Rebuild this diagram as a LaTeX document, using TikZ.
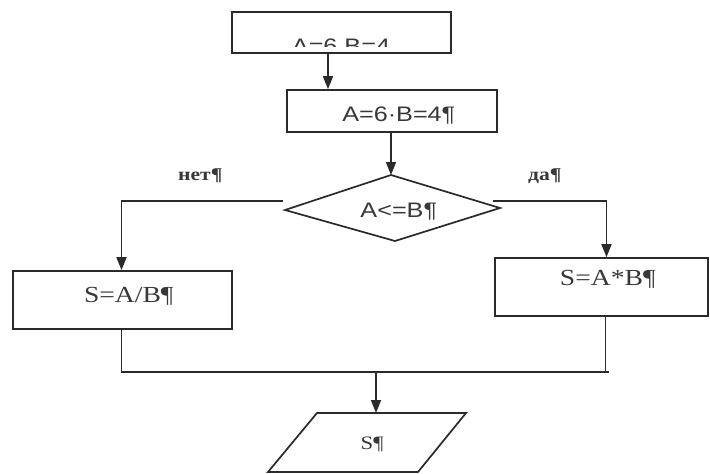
\documentclass[tikz,border=0pt]{standalone}
\usepackage{fontspec}
\setmainfont{Liberation Serif}
\newfontfamily\arialfont{Liberation Sans}
\usetikzlibrary{arrows.meta,calc}

% the labels are set slightly wide
\newcommand\wide[1]{\scalebox{1.2}[1]{#1}}
% paragraph mark hanging after centred text
\newcommand\pmark{\rlap{¶}}

\definecolor{ink}{HTML}{2A2A2A}
\definecolor{txt}{HTML}{383838}

\begin{document}
\begin{tikzpicture}[x=1pt,y=-1pt,
  line/.style={draw=ink, line width=1.7pt},
  arr/.style={line, -{Triangle[length=13pt,width=10pt]}},
  box/.style={draw=ink, line width=1.7pt, rectangle, inner sep=0pt, text=txt,
              text height=15pt, text depth=0pt},
  sans/.style={font=\arialfont\fontsize{21}{25}\selectfont},
  serif/.style={font=\fontsize{23}{27}\selectfont},
  tag/.style={font=\bfseries\fontsize{18}{22}\selectfont, text=txt, inner sep=0pt},
]
\useasboundingbox[fill=white] (0,0) rectangle (710,474);

% first block: its text sits on the lower border and is cut off
\begin{scope}
  \clip (232,12) rectangle (451,46.5);
  \node[sans, text=txt, anchor=base, inner sep=0pt] (t1) at (341,53) {\wide{A=6 B=4}};
\end{scope}
\node[box, minimum width=219pt, minimum height=41pt] (b1) at (341.5,32.5) {};

% assignment block
\node[box, sans, minimum width=210pt, minimum height=42pt] (b2) at (392,111)
  {\raisebox{-3pt}{\wide{A=6·B=4\pmark}}};

% decision
\coordinate (dW) at (285,210);
\coordinate (dN) at (391,175);
\coordinate (dE) at (500,208);
\coordinate (dS) at (395,241);
\draw[line, line join=miter] (dW) -- (dN) -- (dE) -- (dS) -- cycle;
\node[sans, text=txt, inner sep=0pt, text height=15pt, text depth=0pt] (dt) at (392,210)
  {\wide{A<=B\pmark}};

% branch blocks
\node[box, serif, minimum width=219pt, minimum height=58pt] (b3) at (122.5,300)
  {\raisebox{5pt}{\wide{S=A/B\pmark}}};
\node[box, serif, minimum width=213pt, minimum height=58pt] (b4) at (601.5,287)
  {\raisebox{9pt}{\wide{S=A*B\pmark}}};

% output
\coordinate (pTL) at (317,413);
\coordinate (pTR) at (466,413);
\coordinate (pBR) at (418,472);
\coordinate (pBL) at (268,472);
\draw[line, line join=miter] (pTL) -- (pTR) -- (pBR) -- (pBL) -- cycle;
\node[font=\fontsize{19}{23}\selectfont, text=txt, inner sep=0pt] (pt) at (367,444)
  {\wide{S\pmark}};

% branch labels
\node[tag, anchor=base west] (no) at (178,180) {\wide{нет¶}};
\node[tag, anchor=base west] (yes) at (528,180) {\wide{да¶}};

% connectors
\draw[arr] ([xshift=-13.5pt]b1.south) -- ([xshift=-13.5pt]b1.south |- b2.north);
\draw[arr] (dN |- b2.south) -- (dN);

\coordinate (nL) at (283,201);
\coordinate (nR) at (493,201);
\draw[arr] (nL) -| ([xshift=-1pt]b3.north);
\draw[arr] (nR) -| ([xshift=5pt]b4.north);

\coordinate (jR) at (609,372);
\coordinate (jM) at (376,372);
\draw[line] ([xshift=-1pt]b3.south) |- (jR);
\draw[line] ([xshift=4pt]b4.south) -- ([xshift=4pt]b4.south |- jR);
\draw[arr] (jM) -- (jM |- pTL);
\end{tikzpicture}
\end{document}
